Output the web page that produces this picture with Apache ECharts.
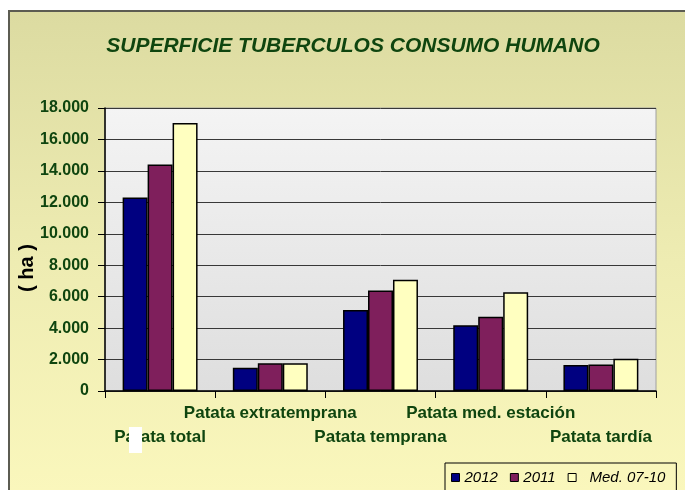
<!DOCTYPE html>
<html>
<head>
<meta charset="utf-8">
<script src="https://cdn.jsdelivr.net/npm/echarts@6/dist/echarts.min.js"></script>
<style>
  html, body { margin: 0; padding: 0; background: #ffffff; }
  #wrap { position: relative; width: 685px; height: 490px; overflow: hidden; }
  #bg { position: absolute; left: 8px; top: 10px; width: 700px; height: 500px;
        border-left: 2px solid #5c5c52; border-top: 2px solid #5c5c52;
        background: linear-gradient(to bottom, #dcdba1 0%, #eeecb2 50%, #fbf8bd 100%); }
  #chart { position: absolute; left: 0; top: 0; width: 685px; height: 490px; }
</style>
</head>
<body>
<div id="wrap">
  <div id="bg"></div>
  <div id="chart"></div>
</div>
<script>
const categories = ['Patata total', 'Patata extratemprana', 'Patata temprana', 'Patata med. estación', 'Patata tardía'];
const seriesNames = ['2012', '2011', 'Med. 07-10'];
const values2012 = [12300, 1480, 5150, 4180, 1650];
const values2011 = [14400, 1760, 6400, 4730, 1690];
const valuesMed = [17050, 1760, 7080, 6280, 2050];
const yMin = 0, yMax = 18000, yStep = 2000;
const titleText = 'SUPERFICIE TUBERCULOS CONSUMO HUMANO';
const yAxisTitle = '( ha )';

const FONT = "'Liberation Sans', Arial, sans-serif";
const GREEN = '#0f450f';
const colors = ['#000080', '#7f1f5c', '#ffffc0'];

function fmtThousands(v) {
  return String(v).replace(/\B(?=(\d{3})+(?!\d))/g, '.');
}

const chart = echarts.init(document.getElementById('chart'), null, { renderer: 'canvas' });

const series = [values2012, values2011, valuesMed].map((vals, i) => ({
  name: seriesNames[i],
  type: 'bar',
  data: vals,
  barGap: '0%',
  barCategoryGap: '32%',
  itemStyle: { color: colors[i], borderColor: '#000', borderWidth: 1.5 },
  emphasis: { disabled: true }
}));

chart.setOption({
  backgroundColor: 'transparent',
  animation: false,
  color: colors,
  title: {
    text: titleText,
    left: 348,
    textAlign: 'center',
    top: 31,
    textStyle: { fontFamily: FONT, fontSize: 21, fontWeight: 'bold', fontStyle: 'italic', color: GREEN }
  },
  legend: {
    left: 445,
    top: 463,
    padding: [7, 11, 9, 6],
    itemWidth: 8,
    itemHeight: 8,
    itemGap: 12,
    icon: 'rect',
    borderColor: '#000',
    borderWidth: 1,
    itemStyle: { borderColor: '#000', borderWidth: 1 },
    formatter: name => name === 'Med. 07-10' ? '  ' + name : name,
    textStyle: { fontFamily: FONT, fontSize: 15, fontStyle: 'italic', color: '#000' },
    data: seriesNames
  },
  grid: {
    left: 105, right: 29, top: 108, bottom: 99,
    show: true,
    borderColor: '#a0a0a0',
    borderWidth: 1,
    backgroundColor: new echarts.graphic.LinearGradient(0, 0, 0, 1, [
      { offset: 0, color: '#f4f4f4' },
      { offset: 1, color: '#dedede' }
    ])
  },
  xAxis: {
    type: 'category',
    data: categories,
    axisLine: { lineStyle: { color: '#000', width: 1.5 } },
    axisTick: { show: true, length: 7, lineStyle: { color: '#000' } },
    axisLabel: {
      interval: 0,
      margin: 10,
      lineHeight: 24,
      fontFamily: FONT, fontSize: 17, fontWeight: 'bold', color: GREEN,
      formatter: (v, i) => (i % 2 === 1) ? v + '\n ' : ' \n' + v
    }
  },
  yAxis: {
    type: 'value',
    min: yMin, max: yMax, interval: yStep,
    axisLine: { show: true, lineStyle: { color: '#000', width: 1.5 } },
    axisTick: { show: true, length: 7, lineStyle: { color: '#000' } },
    splitLine: { lineStyle: { color: '#383838', width: 1 } },
    axisLabel: {
      margin: 16,
      fontFamily: FONT, fontSize: 16, fontWeight: 'bold', color: GREEN,
      formatter: v => fmtThousands(v)
    }
  },
  graphic: [
    {
      type: 'text',
      x: 27, y: 268,
      rotation: Math.PI / 2,
      style: {
        text: yAxisTitle,
        fontFamily: FONT, fontSize: 20, fontWeight: 'bold', fill: '#000',
        textAlign: 'center', textVerticalAlign: 'middle'
      }
    },
    {
      type: 'rect',
      z: 100,
      shape: { x: 129, y: 427, width: 13, height: 26 },
      style: { fill: '#ffffff' }
    }
  ],
  series: series
});
</script>
</body>
</html>
